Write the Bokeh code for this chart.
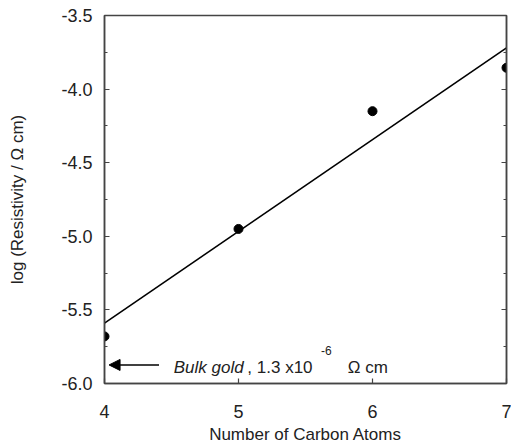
from bokeh.plotting import figure
from bokeh.models import (Range1d, LinearAxis, SingleIntervalTicker, FixedTicker,
                          Arrow, NormalHead, PrintfTickFormatter, CustomJSTickFormatter)
from bokeh.core.properties import value
from bokeh.embed import file_html
from bokeh.resources import INLINE

# ---- data ----
carbon_atoms = [4, 5, 6, 7]
log_resistivity = [-5.68, -4.95, -4.15, -3.855]
fit_x = [4, 7]
fit_y = [-5.59, -3.72]
x_ticks = [4, 5, 6, 7]
arrow_y = -5.874
arrow_x_tail = 4.407
arrow_x_head = 4.034

FONT = "Liberation Sans"
TXT = "#222222"
AX = "#444444"

p = figure(width=511, height=446, output_backend="svg", toolbar_location=None,
           x_range=Range1d(4, 7), y_range=Range1d(-6.0, -3.5),
           min_border_left=104, min_border_right=5, min_border_top=15,
           min_border_bottom=62, x_axis_location="below", y_axis_location="left")
p.xgrid.visible = False
p.ygrid.visible = False
p.outline_line_color = AX
p.outline_line_width = 1.5
p.background_fill_color = "white"
p.border_fill_color = "white"

# x axis
xa = p.xaxis[0]
xa.ticker = FixedTicker(ticks=x_ticks)
xa.axis_label = "Number of Carbon Atoms"
xa.axis_label_text_font = FONT
xa.axis_label_text_font_style = "normal"
xa.axis_label_text_font_size = "17px"
xa.axis_label_text_color = TXT
xa.axis_label_text_line_height = 0.9
xa.axis_label_standoff = 4
xa.major_label_text_font = FONT
xa.major_label_text_font_size = "18px"
xa.major_label_text_color = TXT
xa.major_label_text_line_height = 0.9
xa.major_label_standoff = 21
xa.major_tick_in = 5
xa.major_tick_out = 0
xa.minor_tick_in = 0
xa.minor_tick_out = 0
xa.axis_line_color = AX
xa.axis_line_width = 1.5
xa.major_tick_line_color = AX
xa.major_tick_line_width = 1.2

# y axis
ya = p.yaxis[0]
ya.ticker = SingleIntervalTicker(interval=0.5, num_minor_ticks=2)
ya.formatter = PrintfTickFormatter(format="%.1f")
ya.axis_label = "log (Resistivity / \u03a9 cm)"
ya.axis_label_text_font = FONT
ya.axis_label_text_font_style = "normal"
ya.axis_label_text_font_size = "17px"
ya.axis_label_text_color = TXT
ya.axis_label_standoff = 31
ya.major_label_text_font = FONT
ya.major_label_text_font_size = "18px"
ya.major_label_text_color = TXT
ya.major_label_standoff = 12
ya.major_tick_in = 5
ya.major_tick_out = 0
ya.minor_tick_in = 3
ya.minor_tick_out = 0
ya.axis_line_color = AX
ya.axis_line_width = 1.5
ya.major_tick_line_color = AX
ya.minor_tick_line_color = AX
ya.major_tick_line_width = 1.2
ya.minor_tick_line_width = 1.0

# right axis: ticks only
ra = LinearAxis(ticker=SingleIntervalTicker(interval=0.5, num_minor_ticks=2),
                formatter=CustomJSTickFormatter(code="return ''"))
ra.major_label_standoff = 0
ra.major_tick_in = 5
ra.major_tick_out = 0
ra.minor_tick_in = 3
ra.minor_tick_out = 0
ra.axis_line_color = AX
ra.axis_line_width = 1.5
ra.major_tick_line_color = AX
ra.minor_tick_line_color = AX
p.add_layout(ra, "right")

# fit line and points
p.line(fit_x, fit_y, line_color="black", line_width=1.6)
p.scatter(carbon_atoms, log_resistivity, size=9, color="black")

# arrow to bulk gold value
p.add_layout(Arrow(end=NormalHead(size=11, fill_color="black", line_color="black"),
                   x_start=arrow_x_tail, y_start=arrow_y, x_end=arrow_x_head, y_end=arrow_y,
                   line_color="black", line_width=1.5))

p.text(x=[4.517], y=[-5.893], text=["Bulk gold"], text_font=value(FONT),
       text_font_style="italic", text_font_size="17px", text_color=TXT,
       text_baseline="alphabetic", text_align="left")
p.text(x=[5.066], y=[-5.893], text=[", 1.3 x10"], text_font=value(FONT),
       text_font_size="17px", text_color=TXT, text_baseline="alphabetic", text_align="left")
p.text(x=[5.615], y=[-5.775], text=["-6"], text_font=value(FONT),
       text_font_size="12px", text_color=TXT, text_baseline="alphabetic", text_align="left")
p.text(x=[5.816], y=[-5.893], text=["\u03a9 cm"], text_font=value(FONT),
       text_font_size="17px", text_color=TXT, text_baseline="alphabetic", text_align="left")

open("out.html", "w").write(file_html(p, INLINE))
